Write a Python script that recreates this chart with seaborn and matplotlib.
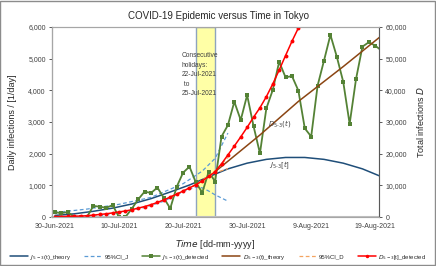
import matplotlib
matplotlib.use("Agg")
import matplotlib.pyplot as plt
import matplotlib.dates as mdates
from matplotlib.ticker import FuncFormatter
from matplotlib.patches import Rectangle
import seaborn as sns
import pandas as pd

# --- data (day 0 = 30-Jun-2021) ---
start = pd.Timestamp("2021-06-30")

j_detected = [150, 120, 160, 0, 0, 0, 350, 325, 290, 375,
              0, 0, 260, 560, 800, 760, 930, 600, 270, 950,
              1400, 1590, 1090, 770, 1430, 1120, 2540, 2900, 3640, 3060,
              3850, 2870, 2010, 3430, 4010, 4900, 4410, 4450, 3990, 2800,
              2540, 4150, 4940, 5750, 5060, 4270, 2940, 4360, 5380, 5520,
              5410, 5250]

d_detected = [100, 150, 200, 250, 300, 400, 600, 800, 1000, 1300,
              1600, 1900, 2300, 2800, 3300, 3900, 4600, 5400, 6300, 7200,
              8200, 9200, 10200, 11400, 12800, 14300, 16800, 19600, 22400, 25300,
              28300, 31500, 34500, 38000, 42000, 46400, 51000, 55500, 59700]

j_theory_days = [0, 3, 6, 9, 12, 15, 18, 21, 24, 27, 30, 33, 36, 39, 42, 45, 48, 51]
j_theory = [50, 100, 180, 280, 410, 580, 790, 1010, 1270, 1520, 1700, 1820, 1880, 1880, 1820, 1700, 1520, 1270]

ci_j_upper_days = [0, 5, 10, 15, 20, 23, 25, 27]
ci_j_upper = [140, 250, 400, 620, 1050, 1450, 1850, 2650]
ci_j_lower_days = [5, 8, 11, 14, 17, 20, 22, 23, 24, 25, 27]
ci_j_lower = [0, 60, 170, 300, 500, 800, 950, 920, 820, 700, 500]

d_theory_days = [25, 32, 38, 45, 51]
d_theory = [14300, 25900, 36500, 47500, 57300]

ci_d_days = [18, 20, 22, 24, 25, 26, 27]
ci_d_upper = [6400, 8300, 10300, 13000, 14600, 16600, 18800]
ci_d_lower = [6200, 8100, 10100, 12600, 14000, 14600, 15300]

x_ticks = ["2021-06-30", "2021-07-10", "2021-07-20", "2021-07-30", "2021-08-09", "2021-08-19"]


def to_dates(days):
    return [start + pd.Timedelta(days=d) for d in days]


sns.set_theme(style="white")
plt.rcParams["font.family"] = ["Liberation Sans", "DejaVu Sans"]
plt.rcParams["mathtext.fontset"] = "dejavusans"

fig = plt.figure(figsize=(4.36, 2.66), dpi=100)
ax = fig.add_axes([52 / 436, 49 / 266, 327 / 436, 190 / 266])
ax2 = ax.twinx()

# holiday band
ax.axvspan(pd.Timestamp("2021-07-22"), pd.Timestamp("2021-07-25"),
           facecolor="#FFFFA6", edgecolor="#8EA4BE", lw=1.0, zorder=0)

c_jt, c_ci_j, c_jd = "#1F4E79", "#5B9BD5", "#548235"
c_dt, c_ci_d, c_dd = "#8B4513", "#F4A460", "#FF0000"

sns.lineplot(x=to_dates(j_theory_days), y=j_theory, ax=ax, color=c_jt, lw=1.1)
sns.lineplot(x=to_dates(ci_j_upper_days), y=ci_j_upper, ax=ax, color=c_ci_j, lw=0.9, dashes=False, linestyle=(0, (3, 2)))
sns.lineplot(x=to_dates(ci_j_lower_days), y=ci_j_lower, ax=ax, color=c_ci_j, lw=0.9, linestyle=(0, (3, 2)))
sns.lineplot(x=to_dates(range(len(j_detected))), y=j_detected, ax=ax, color=c_jd, lw=1.3,
             marker="s", markersize=3, markeredgewidth=0)

sns.lineplot(x=to_dates(d_theory_days), y=d_theory, ax=ax2, color=c_dt, lw=1.1)
sns.lineplot(x=to_dates(ci_d_days), y=ci_d_upper, ax=ax2, color=c_ci_d, lw=0.9, linestyle=(0, (3, 2)))
sns.lineplot(x=to_dates(ci_d_days), y=ci_d_lower, ax=ax2, color=c_ci_d, lw=0.9, linestyle=(0, (3, 2)))
sns.lineplot(x=to_dates(range(len(d_detected))), y=d_detected, ax=ax2, color=c_dd, lw=1.1,
             marker="o", markersize=2.8, markeredgewidth=0)

ax.set_xlim(start - pd.Timedelta(hours=11), start + pd.Timedelta(hours=int(50.6 * 24)))
ax.set_ylim(0, 6000)
ax2.set_ylim(0, 60000)
ax.set_xticks(pd.to_datetime(x_ticks))
ax.xaxis.set_major_formatter(mdates.DateFormatter("%-d-%b-%Y"))
ax.yaxis.set_major_formatter(FuncFormatter(lambda v, p: f"{int(v):,}"))
ax2.yaxis.set_major_formatter(FuncFormatter(lambda v, p: f"{int(v):,}"))
ax.set_yticks(range(0, 6001, 1000))
ax2.set_yticks(range(0, 60001, 10000))

for a in (ax, ax2):
    a.tick_params(labelsize=5, length=2.5, width=0.6, colors="#404040", pad=2)
    for s in a.spines.values():
        s.set_color("#A6A6A6")
        s.set_linewidth(0.8)
    a.set_xlabel("")
    a.set_ylabel("")
ax.tick_params(axis="x", direction="in", length=2, pad=4)
ax.spines["bottom"].set_color("#BFBFBF")
ax.spines["bottom"].set_linewidth(1.5)
ax.spines["left"].set_color("#595959")
ax2.spines["right"].set_color("#595959")

ax.set_ylabel("Daily infections / [1/day]", fontsize=6.5, color="#262626", labelpad=8)
ax2.set_ylabel("Total infections $\\it{D}$", fontsize=6.5, color="#262626", labelpad=6)
ax.set_xlabel("$\\it{Time}$ [dd-mm-yyyy]", fontsize=6.5, color="#262626", labelpad=6)
fig.text(0.5, 0.94, "COVID-19 Epidemic versus Time in Tokyo", ha="center", va="center",
         fontsize=7, color="#262626")

ax.text(pd.Timestamp("2021-07-19") + pd.Timedelta(hours=20), 5200,
        "Consecutive\nholidays:\n22-Jul-2021\n to\n25-Jul-2021",
        fontsize=4.8, color="#404040", va="top", ha="left", linespacing=1.5)
ax2.text(pd.Timestamp("2021-08-04"), 29000, "$D_{5\\text{-}3}(t)$", fontsize=5, color="#404040", ha="center")
ax2.text(pd.Timestamp("2021-08-04"), 15600, "$J_{5\\text{-}3}[t]$", fontsize=5, color="#404040", ha="center")

handles = [
    plt.Line2D([], [], color=c_jt, lw=1.1),
    plt.Line2D([], [], color=c_ci_j, lw=0.9, linestyle=(0, (3, 2))),
    plt.Line2D([], [], color=c_jd, lw=1.1, marker="s", markersize=2.5, markeredgewidth=0),
    plt.Line2D([], [], color=c_dt, lw=1.1),
    plt.Line2D([], [], color=c_ci_d, lw=0.9, linestyle=(0, (3, 2))),
    plt.Line2D([], [], color=c_dd, lw=1.1, marker="o", markersize=2.5, markeredgewidth=0),
]
labels = ["$J_{5-3}$(t)_theory", "95%CI_J", "$J_{5-3}$(t)_detected",
          "$D_{5-3}$(t)_theory", "95%CI_D", "$D_{5-3}$[t]_detected"]
fig.legend(handles, labels, loc="center", bbox_to_anchor=(0.5, 9 / 266), ncol=6, fontsize=4.3,
           frameon=False, handlelength=3, columnspacing=2.2, handletextpad=0.4)

fig.add_artist(Rectangle((0.001, 0.002), 0.997, 0.995, transform=fig.transFigure,
                         fill=False, edgecolor="#8C8C8C", lw=1))

fig.savefig("out.png", dpi=100)
